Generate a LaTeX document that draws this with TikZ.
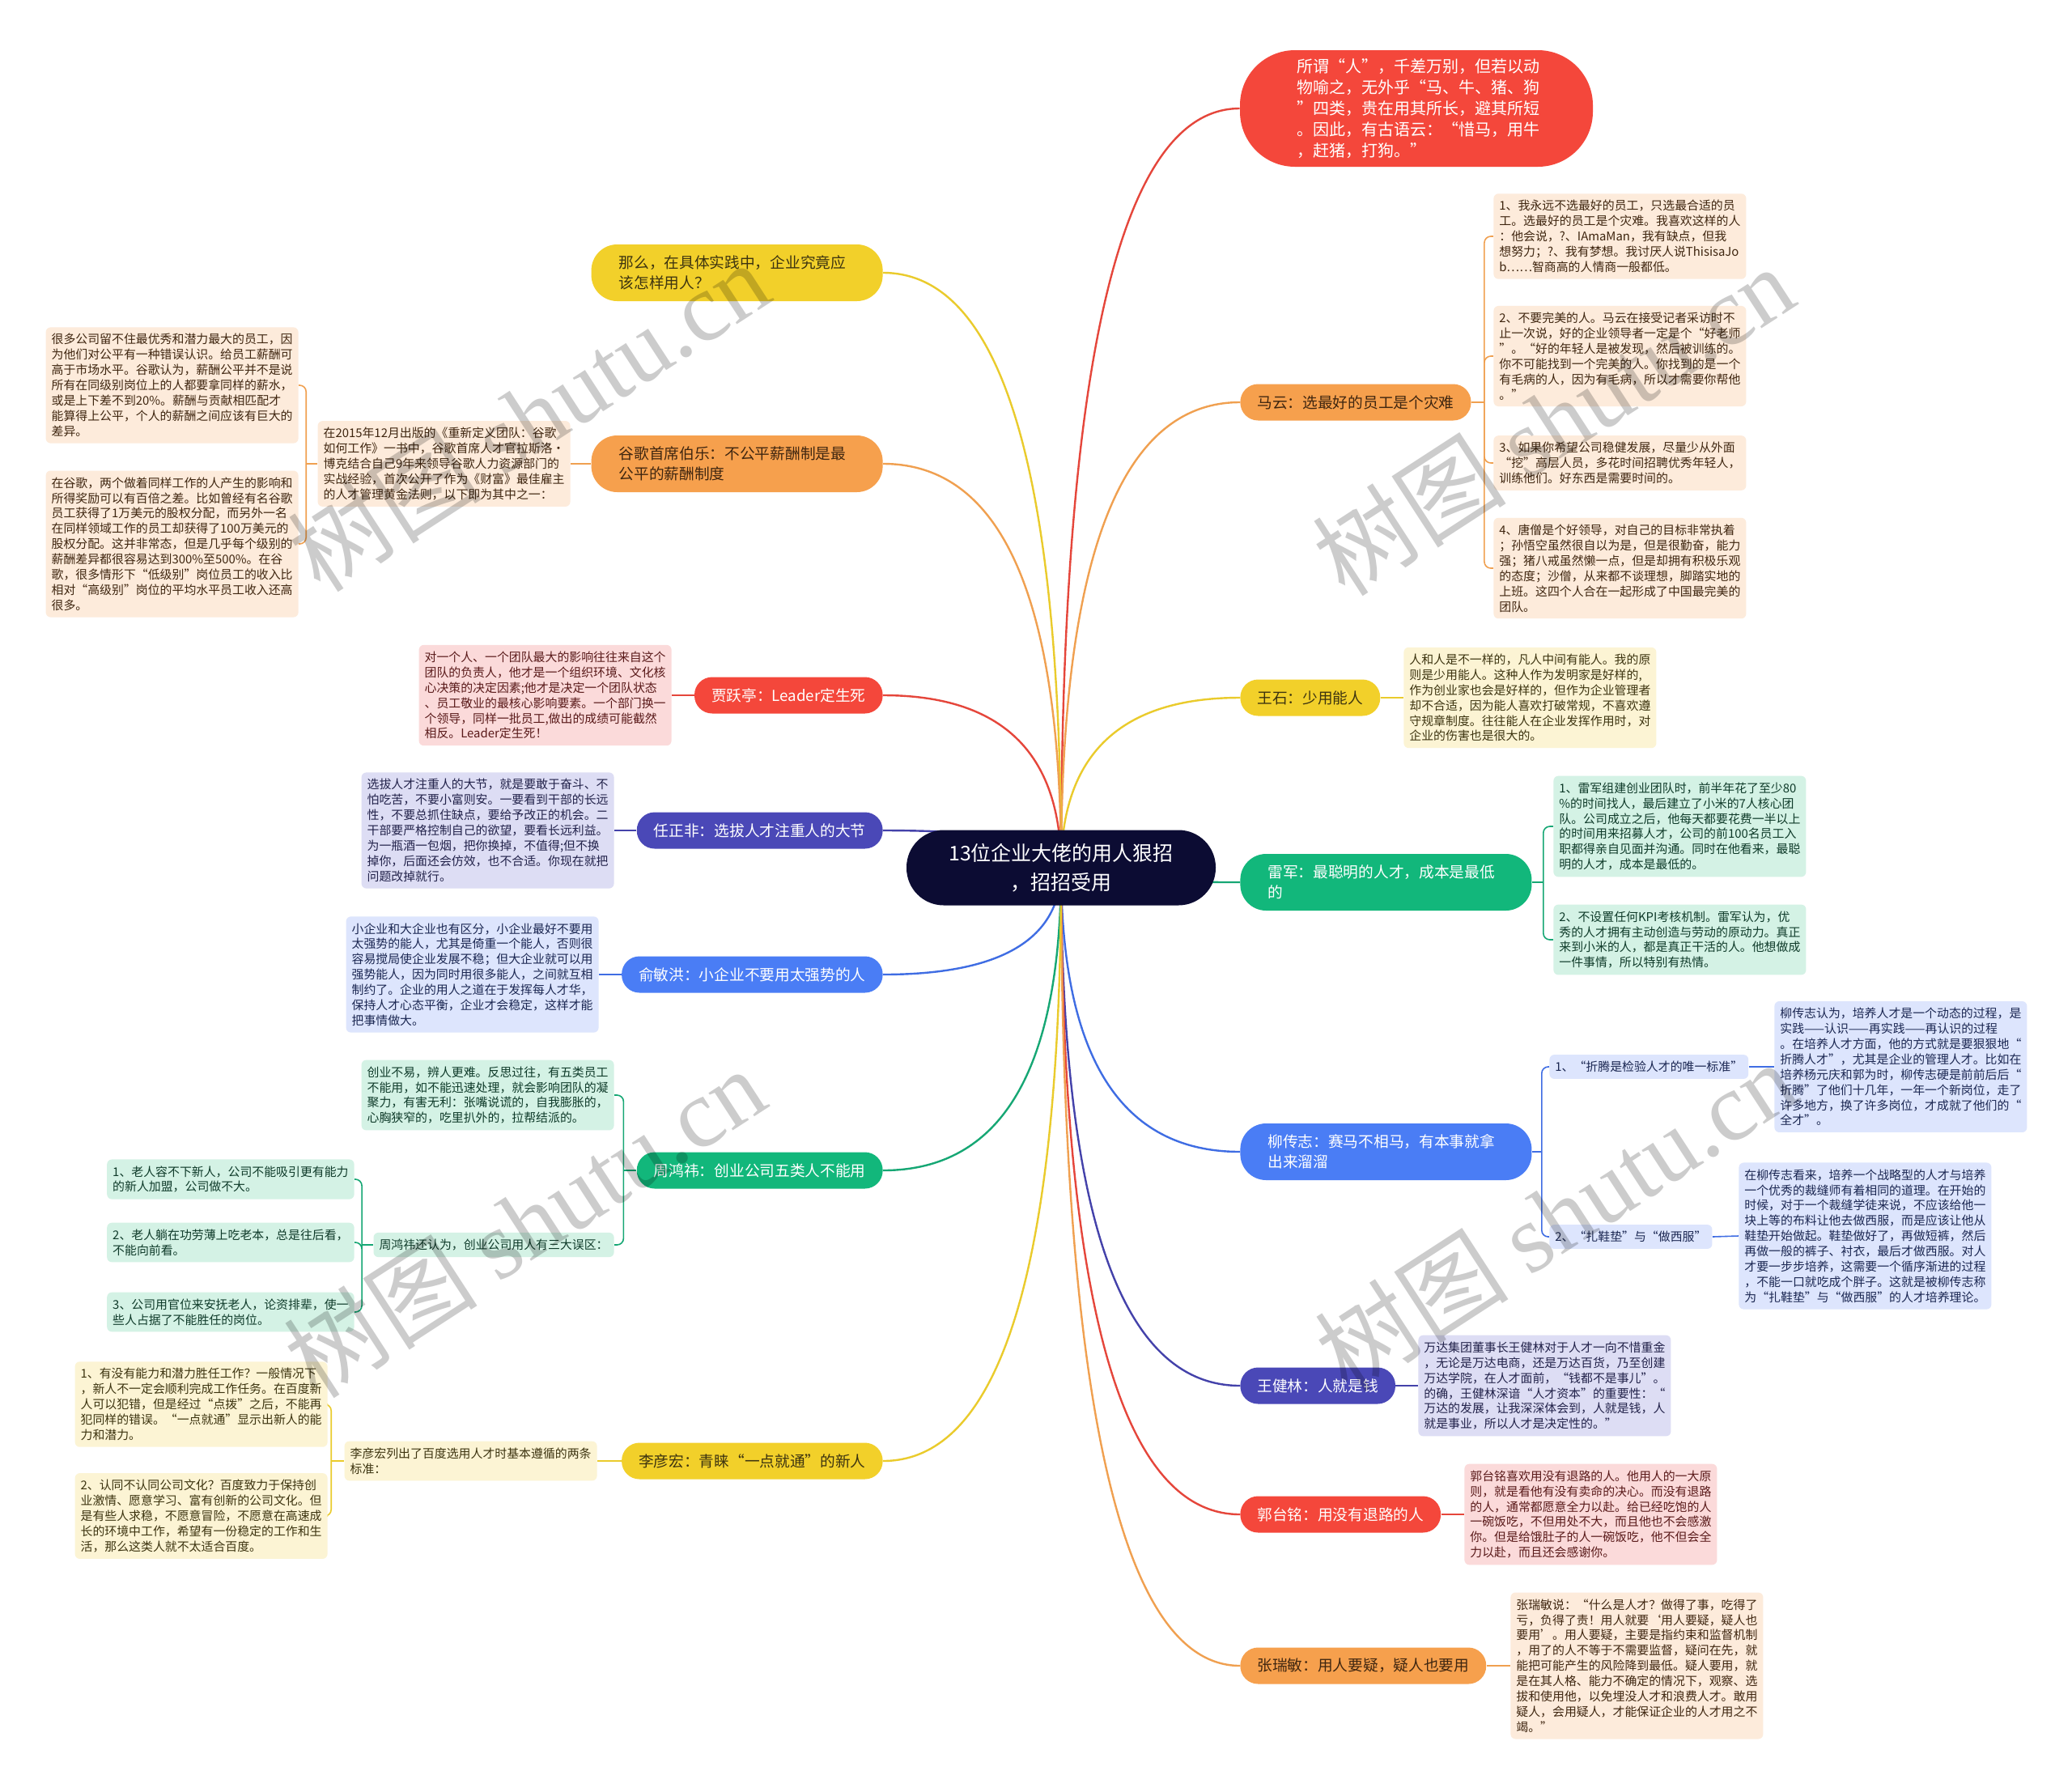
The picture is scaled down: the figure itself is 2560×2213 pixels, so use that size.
\documentclass[tikz,border=0pt]{standalone}
\usepackage{fontspec}
\setmainfont{Noto Sans CJK SC}
\newfontfamily\wmserif{Liberation Serif}
\usetikzlibrary{calc}
\pgfdeclarelayer{background}
\pgfsetlayers{background,main}
\definecolor{cRed}{HTML}{F4473B}
\definecolor{lRed}{HTML}{E5463B}
\definecolor{fRed}{HTML}{FBDADA}
\definecolor{tRed}{HTML}{5A1A1A}
\definecolor{cOra}{HTML}{F6A04D}
\definecolor{lOra}{HTML}{F0A050}
\definecolor{fOra}{HTML}{FDEBDB}
\definecolor{tOra}{HTML}{3F2610}
\definecolor{cYel}{HTML}{F2D02A}
\definecolor{lYel}{HTML}{EACB2C}
\definecolor{fYel}{HTML}{FCF4D4}
\definecolor{tYel}{HTML}{3D3410}
\definecolor{cGre}{HTML}{12B77B}
\definecolor{lGre}{HTML}{16A774}
\definecolor{fGre}{HTML}{D4F2E5}
\definecolor{tGre}{HTML}{0F3B2A}
\definecolor{cBlu}{HTML}{4A7DF5}
\definecolor{lBlu}{HTML}{3F6DE3}
\definecolor{fBlu}{HTML}{DDE5FD}
\definecolor{tBlu}{HTML}{1B2752}
\definecolor{cInd}{HTML}{4A48B7}
\definecolor{lInd}{HTML}{4442AA}
\definecolor{fInd}{HTML}{DDDDF4}
\definecolor{tInd}{HTML}{22224A}
\definecolor{cCtr}{HTML}{0C0C33}
\tikzset{
  br/.style={rounded corners=11pt, inner xsep=10.5pt, inner ysep=0pt, minimum height=22.5pt, font=\fontsize{9.35pt}{12.5pt}\selectfont, align=left},
  brtwo/.style={rounded corners=16pt, inner xsep=17pt, inner ysep=0pt, minimum height=35pt, text width=146pt, font=\fontsize{9.35pt}{12.5pt}\selectfont, align=left},
  leaf/.style={rounded corners=3pt, inner xsep=3.5pt, inner ysep=4pt, font=\fontsize{7.45pt}{9.45pt}\selectfont, align=left},
  leafO/.style={leaf, fill=fOra, text=tOra},
  leafY/.style={leaf, fill=fYel, text=tYel},
  leafR/.style={leaf, fill=fRed, text=tRed},
  leafG/.style={leaf, fill=fGre, text=tGre},
  leafB/.style={leaf, fill=fBlu, text=tBlu},
  leafI/.style={leaf, fill=fInd, text=tInd},
  mline/.style={line width=1.2pt},
  conn/.style={line width=0.8pt, rounded corners=4pt},
  wm/.style={text=black, text opacity=0.2, rotate=33, font=\fontsize{60pt}{60pt}\selectfont},
}
\newcommand{\brRight}[2]{\draw[mline,#2] (ctr.center) .. controls ($(ctr.center)!0.667!(ctr.center |- #1.west)$) and ($(#1.west)!0.667!(ctr.center |- #1.west)$) .. (#1.west);}
\newcommand{\brLeft}[2]{\draw[mline,#2] (ctr.center) .. controls ($(ctr.center)!0.667!(ctr.center |- #1.east)$) and ($(#1.east)!0.667!(ctr.center |- #1.east)$) .. (#1.east);}
\begin{document}
\begin{tikzpicture}[x=0.5pt,y=-0.5pt]
\useasboundingbox (0,0) rectangle (2560,2213);
\begin{pgfonlayer}{background}
\fill[white] (0,0) rectangle (2560,2213);
\end{pgfonlayer}

% center
\node[fill=cCtr, text=white, rounded corners=23pt, minimum width=191pt, minimum height=46.5pt, align=center, inner sep=0pt, font=\fontsize{12.5pt}{18pt}\selectfont] (ctr) at (1311,1072) {13位企业大佬的用人狠招\\，招招受用};

% right branches
\node[fill=cRed, text=white, rounded corners=34pt, minimum width=218pt, minimum height=72pt, inner sep=0pt, text width=148pt, align=left, font=\fontsize{10pt}{12.9pt}\selectfont] (top) at (1750,134) {所谓“人”，千差万别，但若以动\\物喻之，无外乎“马、牛、猪、狗\\”四类，贵在用其所长，避其所短\\。因此，有古语云：“惜马，用牛\\，赶猪，打狗。”};
\node[br, fill=cOra, text=tOra, anchor=west] (mayun) at (1532,497) {马云：选最好的员工是个灾难};
\node[br, fill=cYel, text=tYel, anchor=west] (wangshi) at (1532,862) {王石：少用能人};
\node[brtwo, fill=cGre, text=white, anchor=west] (leijun) at (1532,1090) {雷军：最聪明的人才，成本是最低\\的};
\node[brtwo, fill=cBlu, text=white, anchor=west] (liu) at (1532,1423) {柳传志：赛马不相马，有本事就拿\\出来溜溜};
\node[br, fill=cInd, text=white, anchor=west] (wjl) at (1532,1712) {王健林：人就是钱};
\node[br, fill=cRed, text=white, anchor=west] (guo) at (1532,1871) {郭台铭：用没有退路的人};
\node[br, fill=cOra, text=tOra, anchor=west] (zhang) at (1532,2058) {张瑞敏：用人要疑，疑人也要用};

% left branches
\node[brtwo, fill=cYel, text=tYel, anchor=east] (nm) at (1091,337) {那么，在具体实践中，企业究竟应\\该怎样用人？};
\node[brtwo, fill=cOra, text=tOra, anchor=east] (gg) at (1091,573) {谷歌首席伯乐：不公平薪酬制是最\\公平的薪酬制度};
\node[br, fill=cRed, text=white, anchor=east] (jia) at (1091,859) {贾跃亭：Leader定生死};
\node[br, fill=cInd, text=white, anchor=east] (ren) at (1091,1026) {任正非：选拔人才注重人的大节};
\node[br, fill=cBlu, text=white, anchor=east] (yu) at (1091,1204) {俞敏洪：小企业不要用太强势的人};
\node[br, fill=cGre, text=white, anchor=east] (zhou) at (1091,1446) {周鸿祎：创业公司五类人不能用};
\node[br, fill=cYel, text=tYel, anchor=east] (li) at (1091,1805) {李彦宏：青睐“一点就通”的新人};

% Ma Yun leaves
\node[leafO, anchor=west] (my1) at (1845,292) {1、我永远不选最好的员工，只选最合适的员\\工。选最好的员工是个灾难。我喜欢这样的人\\：他会说，?、IAmaMan，我有缺点，但我\\想努力；?、我有梦想。我讨厌人说ThisisaJo\\b……智商高的人情商一般都低。};
\node[leafO, anchor=west] (my2) at (1845,440) {2、不要完美的人。马云在接受记者采访时不\\止一次说，好的企业领导者一定是个“好老师\\”。“好的年轻人是被发现，然后被训练的。\\你不可能找到一个完美的人。你找到的是一个\\有毛病的人，因为有毛病，所以才需要你帮他\\。”};
\node[leafO, anchor=west] (my3) at (1845,572) {3、如果你希望公司稳健发展，尽量少从外面\\“挖”高层人员，多花时间招聘优秀年轻人，\\训练他们。好东西是需要时间的。};
\node[leafO, anchor=west] (my4) at (1845,702) {4、唐僧是个好领导，对自己的目标非常执着\\；孙悟空虽然很自以为是，但是很勤奋，能力\\强；猪八戒虽然懒一点，但是却拥有积极乐观\\的态度；沙僧，从来都不谈理想，脚踏实地的\\上班。这四个人合在一起形成了中国最完美的\\团队。};

% Wang Shi leaf
\node[leafY, anchor=west] (ws1) at (1734,862) {人和人是不一样的，凡人中间有能人。我的原\\则是少用能人。这种人作为发明家是好样的,\\作为创业家也会是好样的，但作为企业管理者\\却不合适，因为能人喜欢打破常规，不喜欢遵\\守规章制度。往往能人在企业发挥作用时，对\\企业的伤害也是很大的。};

% Lei Jun leaves
\node[leafG, anchor=west] (lj1) at (1919,1021) {1、雷军组建创业团队时，前半年花了至少80\\\%的时间找人，最后建立了小米的7人核心团\\队。公司成立之后，他每天都要花费一半以上\\的时间用来招募人才，公司的前100名员工入\\职都得亲自见面并沟通。同时在他看来，最聪\\明的人才，成本是最低的。};
\node[leafG, anchor=west] (lj2) at (1919,1161) {2、不设置任何KPI考核机制。雷军认为，优\\秀的人才拥有主动创造与劳动的原动力。真正\\来到小米的人，都是真正干活的人。他想做成\\一件事情，所以特别有热情。};

% Liu Chuanzhi
\node[leafB, anchor=west] (lc1) at (1914,1318) {1、“折腾是检验人才的唯一标准”};
\node[leafB, anchor=west] (lc2) at (1914,1528) {2、“扎鞋垫”与“做西服”};
\node[leafB, anchor=west] (lc1a) at (2192,1318) {柳传志认为，培养人才是一个动态的过程，是\\实践——认识——再实践——再认识的过程\\。在培养人才方面，他的方式就是要狠狠地“\\折腾人才”，尤其是企业的管理人才。比如在\\培养杨元庆和郭为时，柳传志硬是前前后后“\\折腾”了他们十几年，一年一个新岗位，走了\\许多地方，换了许多岗位，才成就了他们的“\\全才”。};
\node[leafB, anchor=west] (lc2a) at (2148,1527) {在柳传志看来，培养一个战略型的人才与培养\\一个优秀的裁缝师有着相同的道理。在开始的\\时候，对于一个裁缝学徒来说，不应该给他一\\块上等的布料让他去做西服，而是应该让他从\\鞋垫开始做起。鞋垫做好了，再做短裤，然后\\再做一般的裤子、衬衣，最后才做西服。对人\\才要一步步培养，这需要一个循序渐进的过程\\，不能一口就吃成个胖子。这就是被柳传志称\\为“扎鞋垫”与“做西服”的人才培养理论。};

% Wang Jianlin, Guo, Zhang
\node[leafI, anchor=west] (wj1) at (1752,1712) {万达集团董事长王健林对于人才一向不惜重金\\，无论是万达电商，还是万达百货，乃至创建\\万达学院，在人才面前，“钱都不是事儿”。\\的确，王健林深谙“人才资本”的重要性：“\\万达的发展，让我深深体会到，人就是钱，人\\就是事业，所以人才是决定性的。”};
\node[leafR, anchor=west] (gt1) at (1809,1871) {郭台铭喜欢用没有退路的人。他用人的一大原\\则，就是看他有没有卖命的决心。而没有退路\\的人，通常都愿意全力以赴。给已经吃饱的人\\一碗饭吃，不但用处不大，而且他也不会感激\\你。但是给饿肚子的人一碗饭吃，他不但会全\\力以赴，而且还会感谢你。};
\node[leafO, anchor=west] (zr1) at (1866,2058) {张瑞敏说：“什么是人才？做得了事，吃得了\\亏，负得了责！用人就要‘用人要疑，疑人也\\要用’。用人要疑，主要是指约束和监督机制\\，用了的人不等于不需要监督，疑问在先，就\\能把可能产生的风险降到最低。疑人要用，就\\是在其人格、能力不确定的情况下，观察、选\\拔和使用他，以免埋没人才和浪费人才。敢用\\疑人，会用疑人，才能保证企业的人才用之不\\竭。”};

% Google leaves
\node[leafO, anchor=east] (ggc) at (705,573) {在2015年12月出版的《重新定义团队：谷歌\\如何工作》一书中，谷歌首席人才官拉斯洛·\\博克结合自己9年来领导谷歌人力资源部门的\\实战经验，首次公开了作为《财富》最佳雇主\\的人才管理黄金法则，以下即为其中之一：};
\node[leafO, anchor=east] (gga) at (369,476) {很多公司留不住最优秀和潜力最大的员工，因\\为他们对公平有一种错误认识。给员工薪酬可\\高于市场水平。谷歌认为，薪酬公平并不是说\\所有在同级别岗位上的人都要拿同样的薪水，\\或是上下差不到20\%。薪酬与贡献相匹配才\\能算得上公平，个人的薪酬之间应该有巨大的\\差异。};
\node[leafO, anchor=east] (ggb) at (369,672) {在谷歌，两个做着同样工作的人产生的影响和\\所得奖励可以有百倍之差。比如曾经有名谷歌\\员工获得了1万美元的股权分配，而另外一名\\在同样领域工作的员工却获得了100万美元的\\股权分配。这并非常态，但是几乎每个级别的\\薪酬差异都很容易达到300\%至500\%。在谷\\歌，很多情形下“低级别”岗位员工的收入比\\相对“高级别”岗位的平均水平员工收入还高\\很多。};

% Jia, Ren, Yu
\node[leafR, anchor=east] (jy1) at (830,859) {对一个人、一个团队最大的影响往往来自这个\\团队的负责人，他才是一个组织环境、文化核\\心决策的决定因素;他才是决定一个团队状态\\、员工敬业的最核心影响要素。一个部门换一\\个领导，同样一批员工,做出的成绩可能截然\\相反。Leader定生死！};
\node[leafI, anchor=east] (rz1) at (759,1026) {选拔人才注重人的大节，就是要敢于奋斗、不\\怕吃苦，不要小富则安。一要看到干部的长远\\性，不要总抓住缺点，要给予改正的机会。二\\干部要严格控制自己的欲望，要看长远利益。\\为一瓶酒一包烟，把你换掉，不值得;但不换\\掉你，后面还会仿效，也不合适。你现在就把\\问题改掉就行。};
\node[leafB, anchor=east] (ym1) at (740,1204) {小企业和大企业也有区分，小企业最好不要用\\太强势的能人，尤其是倚重一个能人，否则很\\容易搅局使企业发展不稳；但大企业就可以用\\强势能人，因为同时用很多能人，之间就互相\\制约了。企业的用人之道在于发挥每人才华，\\保持人才心态平衡，企业才会稳定，这样才能\\把事情做大。};

% Zhou
\node[leafG, anchor=east] (zh1) at (759,1353) {创业不易，辨人更难。反思过往，有五类员工\\不能用，如不能迅速处理，就会影响团队的凝\\聚力，有害无利：张嘴说谎的，自我膨胀的，\\心胸狭窄的，吃里扒外的，拉帮结派的。};
\node[leafG, anchor=east] (zh2) at (759,1538) {周鸿祎还认为，创业公司用人有三大误区：};
\node[leafG, anchor=east] (zc1) at (438,1457) {1、老人容不下新人，公司不能吸引更有能力\\的新人加盟，公司做不大。};
\node[leafG, anchor=east] (zc2) at (438,1535) {2、老人躺在功劳薄上吃老本，总是往后看，\\不能向前看。};
\node[leafG, anchor=east] (zc3) at (438,1621) {3、公司用官位来安抚老人，论资排辈，使一\\些人占据了不能胜任的岗位。};

% Li
\node[leafY, anchor=east] (lm) at (738,1805) {李彦宏列出了百度选用人才时基本遵循的两条\\标准：};
\node[leafY, anchor=east] (ll1) at (405,1735) {1、有没有能力和潜力胜任工作？一般情况下\\，新人不一定会顺利完成工作任务。在百度新\\人可以犯错，但是经过“点拨”之后，不能再\\犯同样的错误。“一点就通”显示出新人的能\\力和潜力。};
\node[leafY, anchor=east] (ll2) at (405,1873) {2、认同不认同公司文化？百度致力于保持创\\业激情、愿意学习、富有创新的公司文化。但\\是有些人求稳，不愿意冒险，不愿意在高速成\\长的环境中工作，希望有一份稳定的工作和生\\活，那么这类人就不太适合百度。};

% connectors
\begin{pgfonlayer}{background}
\brRight{top}{lRed}
\brRight{mayun}{lOra}
\brRight{wangshi}{lYel}
\brRight{leijun}{lGre}
\brRight{liu}{lBlu}
\brRight{wjl}{lInd}
\brRight{guo}{lRed}
\brRight{zhang}{lOra}
\brLeft{nm}{lYel}
\brLeft{gg}{lOra}
\brLeft{jia}{lRed}
\brLeft{ren}{lInd}
\brLeft{yu}{lBlu}
\brLeft{zhou}{lGre}
\brLeft{li}{lYel}

\draw[conn,lOra] (mayun.east) -- ++(16,0) coordinate (myj);
\draw[conn,lOra] (myj) |- (my1.west);
\draw[conn,lOra] (myj) |- (my2.west);
\draw[conn,lOra] (myj) |- (my3.west);
\draw[conn,lOra] (myj) |- (my4.west);
\draw[conn,lYel] (wangshi.east) -- (ws1.west);
\draw[conn,lGre] (leijun.east) -- ++(14,0) coordinate (ljj);
\draw[conn,lGre] (ljj) |- (lj1.west);
\draw[conn,lGre] (ljj) |- (lj2.west);
\draw[conn,lBlu] (liu.east) -- ++(12,0) coordinate (lcj);
\draw[conn,lBlu] (lcj) |- (lc1.west);
\draw[conn,lBlu] (lcj) |- (lc2.west);
\draw[conn,lBlu] (lc1.east) -- (lc1a.west);
\draw[conn,lBlu] (lc2.east) -- (lc2a.west);
\draw[conn,lInd] (wjl.east) -- (wj1.west);
\draw[conn,lRed] (guo.east) -- (gt1.west);
\draw[conn,lOra] (zhang.east) -- (zr1.west);

\draw[conn,lOra] (gg.west) -- (ggc.east);
\draw[conn,lOra] (ggc.west) -- ++(-14,0) coordinate (ggj);
\draw[conn,lOra] (ggj) |- (gga.east);
\draw[conn,lOra] (ggj) |- (ggb.east);
\draw[conn,lRed] (jia.west) -- (jy1.east);
\draw[conn,lInd] (ren.west) -- (rz1.east);
\draw[conn,lBlu] (yu.west) -- (ym1.east);
\draw[conn,lGre] (zhou.west) -- ++(-16,0) coordinate (zhj);
\draw[conn,lGre] (zhj) |- (zh1.east);
\draw[conn,lGre] (zhj) |- (zh2.east);
\draw[conn,lGre] (zh2.west) -- ++(-14,0) coordinate (zcj);
\draw[conn,lGre] (zcj) |- (zc1.east);
\draw[conn,lGre] (zcj) |- (zc2.east);
\draw[conn,lGre] (zcj) |- (zc3.east);
\draw[conn,lYel] (li.west) -- (lm.east);
\draw[conn,lYel] (lm.west) -- ++(-16,0) coordinate (lij);
\draw[conn,lYel] (lij) |- (ll1.east);
\draw[conn,lYel] (lij) |- (ll2.east);
\end{pgfonlayer}

% watermarks
\node[wm] (wm1) at (653,514) {树图 {\wmserif shutu.cn}};
\node[wm] (wm2) at (1919,519) {树图 {\wmserif shutu.cn}};
\node[wm] (wm3) at (648,1510) {树图 {\wmserif shutu.cn}};
\node[wm] (wm4) at (1922,1502) {树图 {\wmserif shutu.cn}};
\end{tikzpicture}
\end{document}
